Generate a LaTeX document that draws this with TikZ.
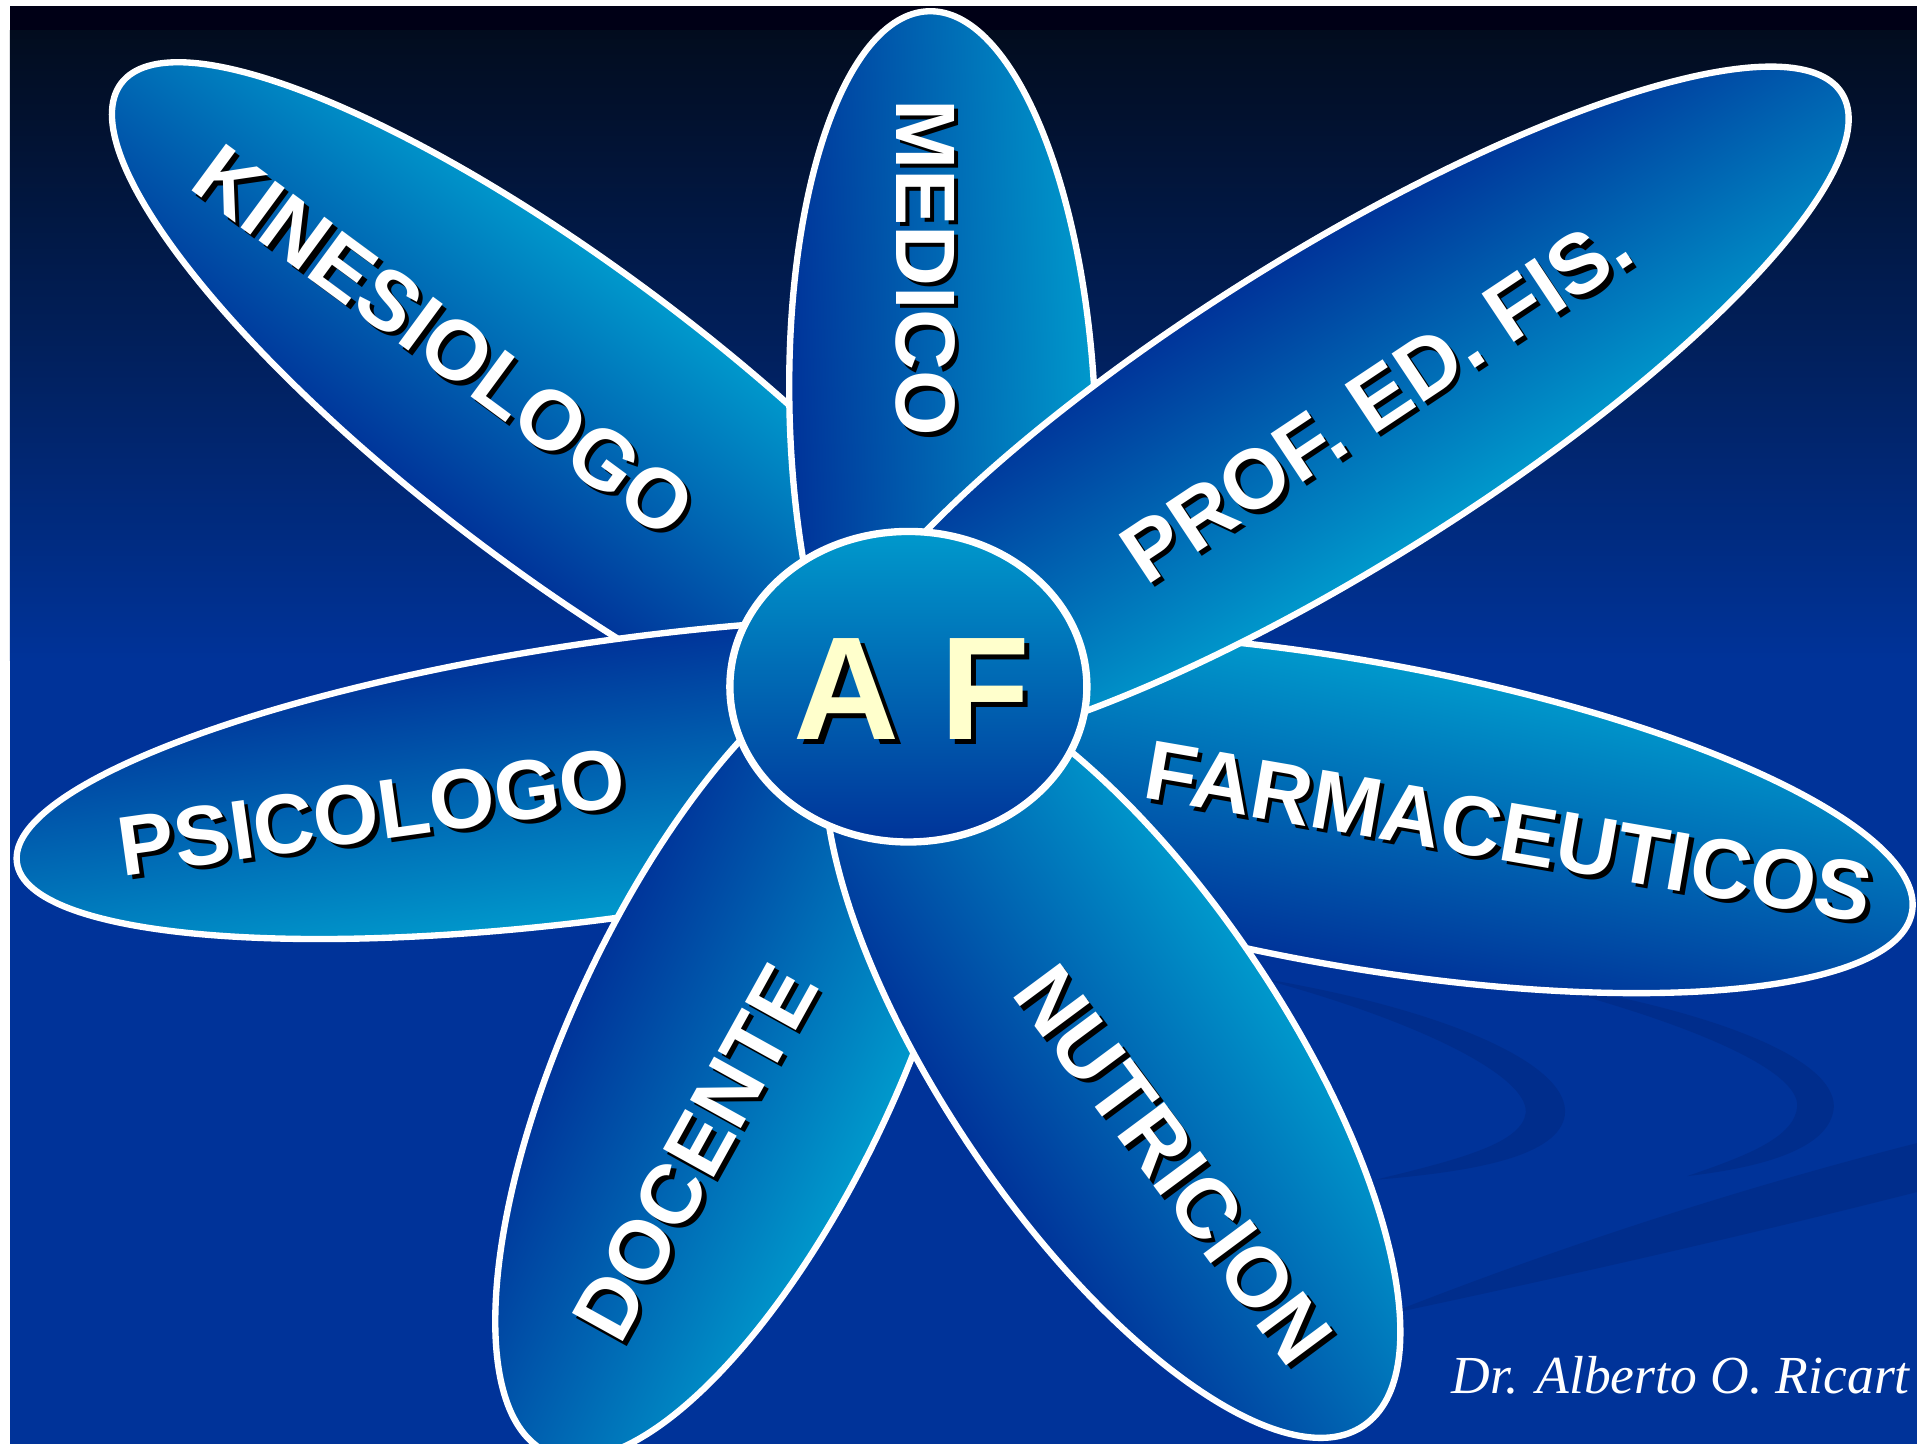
\documentclass[tikz,border=0pt]{standalone}
\usepackage{fontspec}
\setmainfont{Liberation Sans}
\newfontfamily\sigfont{Liberation Serif}
\definecolor{petlight}{HTML}{0099CC}
\definecolor{petdark}{HTML}{003399}
\definecolor{bgband}{HTML}{000016}
\definecolor{bgtop}{HTML}{020C1E}
\definecolor{bgmid}{HTML}{022266}
\definecolor{bgbot}{HTML}{003399}
\definecolor{swoosh}{HTML}{002D8C}
\definecolor{afyellow}{HTML}{FFFFCC}
\tikzset{
  petalline/.style={draw=white, line width=2.6pt},
  lbl/.style={inner sep=0pt, text=white, font=\fontsize{34.5}{40}\selectfont\bfseries},
  lblshadow/.style={inner sep=0pt, text=black, font=\fontsize{34.5}{40}\selectfont\bfseries},
}
% cx, cy, a, b, angle, top colour, bottom colour
\newcommand\petal[7]{%
  \begin{scope}[transform canvas={shift={(#1,#2)}, rotate=#5}]
    \shade[petalline, top color=#6, bottom color=#7] (0,0) ellipse [x radius=#3, y radius=#4];
  \end{scope}}
% name, x, y, angle, text
\newcommand\plabel[5]{%
  \node[lblshadow, rotate=#4] (#1-s) at ({#2+3.5},{#3-3.5}) {#5};
  \node[lbl, rotate=#4] (#1) at (#2,#3) {#5};}
\begin{document}
\begin{tikzpicture}[x=0.5pt, y=0.5pt]
\useasboundingbox (0,0) rectangle (1568,-1181);
% background
\fill[white] (0,0) rectangle (1568,-1181);
\fill[bgband] (8,-5) rectangle (1568,-26);
\shade[top color=bgtop, middle color=bgmid, bottom color=bgbot] (8,-25) rectangle (1568,-540);
\fill[bgbot] (8,-539) rectangle (1568,-1181);
% faint swooshes
\fill[swoosh] (1030,-800) .. controls (1180,-825) and (1285,-870) .. (1280,-912)
  .. controls (1275,-945) and (1210,-958) .. (1125,-965)
  .. controls (1195,-948) and (1245,-935) .. (1248,-910)
  .. controls (1250,-880) and (1160,-835) .. (1030,-800) -- cycle;
\fill[swoosh] (1240,-800) .. controls (1400,-825) and (1500,-865) .. (1500,-905)
  .. controls (1498,-940) and (1440,-955) .. (1380,-962)
  .. controls (1430,-945) and (1468,-930) .. (1470,-905)
  .. controls (1472,-875) and (1380,-835) .. (1240,-800) -- cycle;
\fill[swoosh] (1135,-1075) .. controls (1300,-1010) and (1450,-965) .. (1568,-935)
  -- (1568,-975) .. controls (1450,-1005) and (1300,-1040) .. (1135,-1075) -- cycle;
% petals (bottom to top)
\petal{466.5}{-345}{460}{124}{-37}{petlight}{petdark}   % KINESIOLOGO
\petal{506}{-636.5}{497}{113}{8}{petdark}{petlight}      % PSICOLOGO
\petal{601}{-860}{362}{135}{65}{petdark}{petlight}       % DOCENTE
\petal{1105}{-665}{466}{125}{-10}{petlight}{petdark}     % FARMACEUTICOS
\petal{910}{-862}{367}{139}{-56}{petlight}{petdark}      % NUTRICION
\petal{771}{-343}{334}{125}{92}{petdark}{petlight}       % MEDICO
\petal{1091}{-336}{490}{128}{32}{petdark}{petlight}      % PROF. ED. FIS.
% centre
\shade[draw=white, line width=3pt, top color=petlight, bottom color=petdark]
  (743,-561.7) ellipse [x radius=146, y radius=127];
% labels
\plabel{kin}{363}{-279}{-36.4}{KINESIOLOGO}
\plabel{med}{757}{-219}{-90}{MEDICO}
\plabel{prof}{1125.6}{-326.4}{33.6}{PROF. ED. FIS.}
\plabel{farm}{1234}{-680.5}{-9.8}{FARMACEUTICOS}
\plabel{psi}{304}{-664}{8}{PSICOLOGO}
\plabel{doc}{568.5}{-942.5}{61}{DOCENTE}
\plabel{nut}{960}{-952.5}{-53.4}{NUTRICION}
\node[inner sep=0pt, text=black, font=\fontsize{60}{70}\selectfont\bfseries] (af-s) at (750.2,-568) {A F};
\node[inner sep=0pt, text=afyellow, font=\fontsize{60}{70}\selectfont\bfseries] (af) at (745.7,-563.5) {A F};
\node[anchor=base west, inner sep=0pt, text=white, font=\sigfont\itshape\fontsize{21.9}{25}\selectfont] (sig) at (1187,-1139.5) {Dr. Alberto O. Ricart};
\end{tikzpicture}
\end{document}
